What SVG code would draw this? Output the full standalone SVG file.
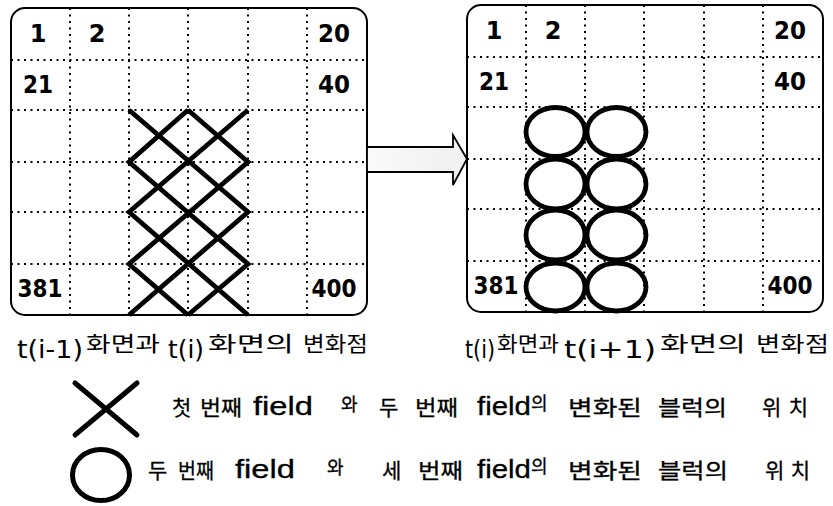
<svg xmlns="http://www.w3.org/2000/svg" width="833" height="506" viewBox="0 0 833 506">
<style>
.panel{fill:#fff;stroke:#000;stroke-width:2}
.grid{fill:none;stroke:#000;stroke-width:2;stroke-dasharray:2 4.5}
.num{font-family:"DejaVu Sans",Verdana,sans-serif;font-weight:bold;font-size:24px;fill:#000;text-anchor:middle}
.mark{fill:none;stroke:#000;stroke-width:4.8;stroke-linejoin:miter;stroke-linecap:butt}
.lat{font-family:"DejaVu Sans",Verdana,sans-serif;font-size:25px;fill:#000}
.kor{font-family:"Noto Sans CJK KR","Noto Sans",sans-serif;font-size:21px;fill:#000}
.leg{font-family:"Noto Sans CJK KR","Noto Sans",sans-serif;font-size:21px;fill:#000;stroke:#000;stroke-width:0.3}
.fld{font-family:"Liberation Sans",Arial,sans-serif;font-size:25px;fill:#000;stroke:#000;stroke-width:0.3}
.sm{font-family:"Noto Sans CJK KR","Noto Sans",sans-serif;font-size:18px;fill:#000;stroke:#000;stroke-width:0.3}
</style>
<defs>
<g id="frame">
<rect class="panel" x="11" y="8" width="356" height="307" rx="14"/>
<path class="grid" d="M70 8V315M129 8V315M188 8V315M248 8V315M307 8V315M11 60H367M11 110H367M11 162H367M11 212H367M11 264H367"/>
<text class="num" x="38" y="42">1</text>
<text class="num" x="97" y="42">2</text>
<text class="num" x="334" y="42" textLength="32" lengthAdjust="spacingAndGlyphs">20</text>
<text class="num" x="38" y="93" textLength="30" lengthAdjust="spacingAndGlyphs">21</text>
<text class="num" x="334" y="93" textLength="32" lengthAdjust="spacingAndGlyphs">40</text>
<text class="num" x="40" y="297" textLength="45" lengthAdjust="spacingAndGlyphs">381</text>
<text class="num" x="334" y="297" textLength="45" lengthAdjust="spacingAndGlyphs">400</text>
</g>
<linearGradient id="ag" x1="0" y1="0" x2="1" y2="0">
<stop offset="0" stop-color="#fafafa"/>
<stop offset="1" stop-color="#f0f0f0"/>
</linearGradient>
</defs>

<g id="frame-left">
<use href="#frame"/>
<path class="mark" d="M129 110L248 212L129 315M248 110L129 212L248 315M188 110L248 162L129 264L188 315M188 110L129 162L248 264L188 315"/>
</g>

<g id="frame-right" transform="translate(456,-3)">
<use href="#frame"/>
<g class="mark">
<ellipse cx="99.5" cy="135" rx="29.5" ry="24.5"/>
<ellipse cx="160.5" cy="135" rx="29.5" ry="24.5"/>
<ellipse cx="99.5" cy="187" rx="29.5" ry="25"/>
<ellipse cx="160.5" cy="187" rx="29.5" ry="25"/>
<ellipse cx="99.5" cy="238" rx="29.5" ry="25"/>
<ellipse cx="160.5" cy="238" rx="29.5" ry="25"/>
<ellipse cx="99.5" cy="290" rx="29.5" ry="24"/>
<ellipse cx="160.5" cy="290" rx="29.5" ry="24"/>
</g>
</g>

<g id="connectors">
<path d="M367 147H453V135L467 159L453 185V172H367Z" fill="url(#ag)" stroke="#000" stroke-width="1.8" stroke-linejoin="miter"/>
</g>

<g id="label-left">
<text class="lat" x="17" y="358" textLength="66" lengthAdjust="spacingAndGlyphs">t(i-1)</text>
<text class="kor" x="86" y="351" textLength="74" lengthAdjust="spacingAndGlyphs">화면과</text>
<text class="lat" x="168" y="358" textLength="36" lengthAdjust="spacingAndGlyphs">t(i)</text>
<text class="kor" x="208" y="351" textLength="86" lengthAdjust="spacingAndGlyphs">화면의</text>
<text class="kor" x="303" y="351" textLength="65" lengthAdjust="spacingAndGlyphs">변화점</text>
</g>

<g id="label-right">
<text class="lat" x="465" y="358" textLength="30" lengthAdjust="spacingAndGlyphs">t(i)</text>
<text class="kor" x="497" y="351" textLength="62" lengthAdjust="spacingAndGlyphs">화면과</text>
<text class="lat" x="564" y="358" textLength="92" lengthAdjust="spacingAndGlyphs">t(i+1)</text>
<text class="kor" x="660" y="351" textLength="86" lengthAdjust="spacingAndGlyphs">화면의</text>
<text class="kor" x="756" y="351" textLength="73" lengthAdjust="spacingAndGlyphs">변화점</text>
</g>

<g id="legend-x">
<path d="M75 383L137 435M137 383L75 435" fill="none" stroke="#000" stroke-width="5" stroke-linecap="round"/>
<text class="leg" x="172" y="415">첫</text>
<text class="leg" x="200" y="415" textLength="42" lengthAdjust="spacingAndGlyphs">번째</text>
<text class="fld" x="253" y="415" textLength="60" lengthAdjust="spacingAndGlyphs">field</text>
<text class="sm" x="341" y="411">와</text>
<text class="leg" x="379" y="415">두</text>
<text class="leg" x="415" y="415" textLength="43" lengthAdjust="spacingAndGlyphs">번째</text>
<text class="fld" x="477" y="415" textLength="54" lengthAdjust="spacingAndGlyphs">field</text>
<text class="sm" x="531" y="410">의</text>
<text class="leg" x="568" y="415" textLength="74" lengthAdjust="spacingAndGlyphs">변화된</text>
<text class="leg" x="658" y="415" textLength="69" lengthAdjust="spacingAndGlyphs">블럭의</text>
<text class="leg" x="762" y="415" textLength="46" lengthAdjust="spacing">위치</text>
</g>

<g id="legend-o">
<ellipse cx="101" cy="475" rx="28.5" ry="25.5" fill="none" stroke="#000" stroke-width="5"/>
<text class="leg" x="148" y="478">두</text>
<text class="leg" x="178" y="478" textLength="36" lengthAdjust="spacingAndGlyphs">번째</text>
<text class="fld" x="235" y="478" textLength="60" lengthAdjust="spacingAndGlyphs">field</text>
<text class="sm" x="327" y="474">와</text>
<text class="leg" x="382" y="478">세</text>
<text class="leg" x="418" y="478" textLength="45" lengthAdjust="spacingAndGlyphs">번째</text>
<text class="fld" x="477" y="478" textLength="54" lengthAdjust="spacingAndGlyphs">field</text>
<text class="sm" x="531" y="473">의</text>
<text class="leg" x="568" y="478" textLength="74" lengthAdjust="spacingAndGlyphs">변화된</text>
<text class="leg" x="658" y="478" textLength="70" lengthAdjust="spacingAndGlyphs">블럭의</text>
<text class="leg" x="765" y="478" textLength="45" lengthAdjust="spacing">위치</text>
</g>
</svg>
